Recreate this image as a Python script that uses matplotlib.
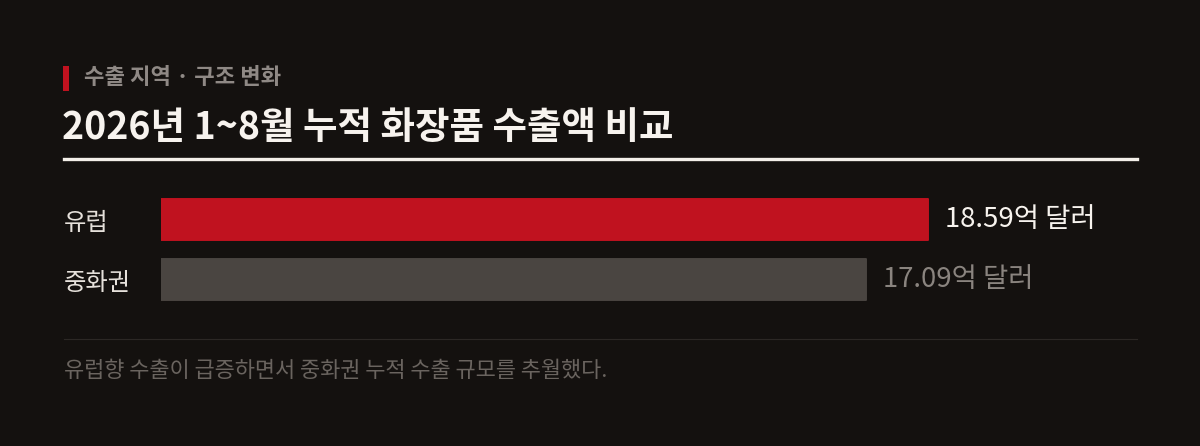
import matplotlib
matplotlib.use("Agg")
import matplotlib.pyplot as plt
from matplotlib.patches import Rectangle
from matplotlib.lines import Line2D

plt.rcParams['font.family'] = ['Noto Sans CJK KR', 'DejaVu Sans']

# data
regions = ["유럽", "중화권"]
export_values = [18.59, 17.09]          # 억 달러, 2026년 1~8월 누적
value_labels = ["18.59억 달러", "17.09억 달러"]

kicker = "수출 지역 · 구조 변화"
title = "2026년 1~8월 누적 화장품 수출액 비교"
note = "유럽향 수출이 급증하면서 중화권 누적 수출 규모를 추월했다."

# style
W, H = 1200, 446
BG = "#14110f"
RED = "#c0121f"
GREY_BAR = "#4a4541"
bar_colors = [RED, GREY_BAR]
value_colors = ["#f7f3ee", "#8a847f"]


def fx(px):
    return px / W


def fy(py):
    return 1 - py / H


fig = plt.figure(figsize=(W / 100, H / 100), dpi=100, facecolor=BG)

# header
fig.patches.append(Rectangle((fx(63), fy(91)), 6 / W, 25 / H, transform=fig.transFigure,
                             facecolor=RED, edgecolor="none"))
fig.text(fx(84), fy(78), kicker, color="#8f8985", fontsize=16, fontweight="bold",
         va="center", ha="left")
fig.text(fx(62), fy(127), title, color="#f7f3ee", fontsize=27, fontweight="semibold",
         va="center", ha="left")
fig.lines.append(Line2D([fx(64), fx(1137)], [fy(159), fy(159)], transform=fig.transFigure,
                        color="#f3efe9", linewidth=2.4))

# bars
ax = fig.add_axes([fx(161), fy(309.5), fx(1137) - fx(161), 120 / H])
ax.set_facecolor(BG)
ypos = list(range(len(regions)))
ax.barh(ypos, export_values, height=0.69, color=bar_colors, edgecolor=bar_colors,
        linewidth=1.4, joinstyle="round")
ax.set_xlim(0, 976 / 41.26)
ax.set_ylim(1.5, -0.5)

ax.set_yticks(ypos)
ax.set_yticklabels(regions, fontsize=17.5, color="#e6e1db", ha="left")
ax.tick_params(axis="y", length=0, pad=(161 - 64) * 0.72)
ax.set_xticks([])
for s in ax.spines.values():
    s.set_visible(False)

for i, (v, lab) in enumerate(zip(export_values, value_labels)):
    ax.annotate(lab, xy=(v, i), xytext=(17, 0), textcoords="offset pixels",
                va="center", ha="left", fontsize=19.8, color=value_colors[i],
                fontweight="medium")

# footer
fig.lines.append(Line2D([fx(64), fx(1137)], [fy(338.5), fy(338.5)], transform=fig.transFigure,
                        color="#2c2825", linewidth=0.8))
fig.text(fx(64), fy(371), note, color="#6a645f", fontsize=15.8, va="center", ha="left")

fig.savefig("out.png", dpi=100, facecolor=BG)
